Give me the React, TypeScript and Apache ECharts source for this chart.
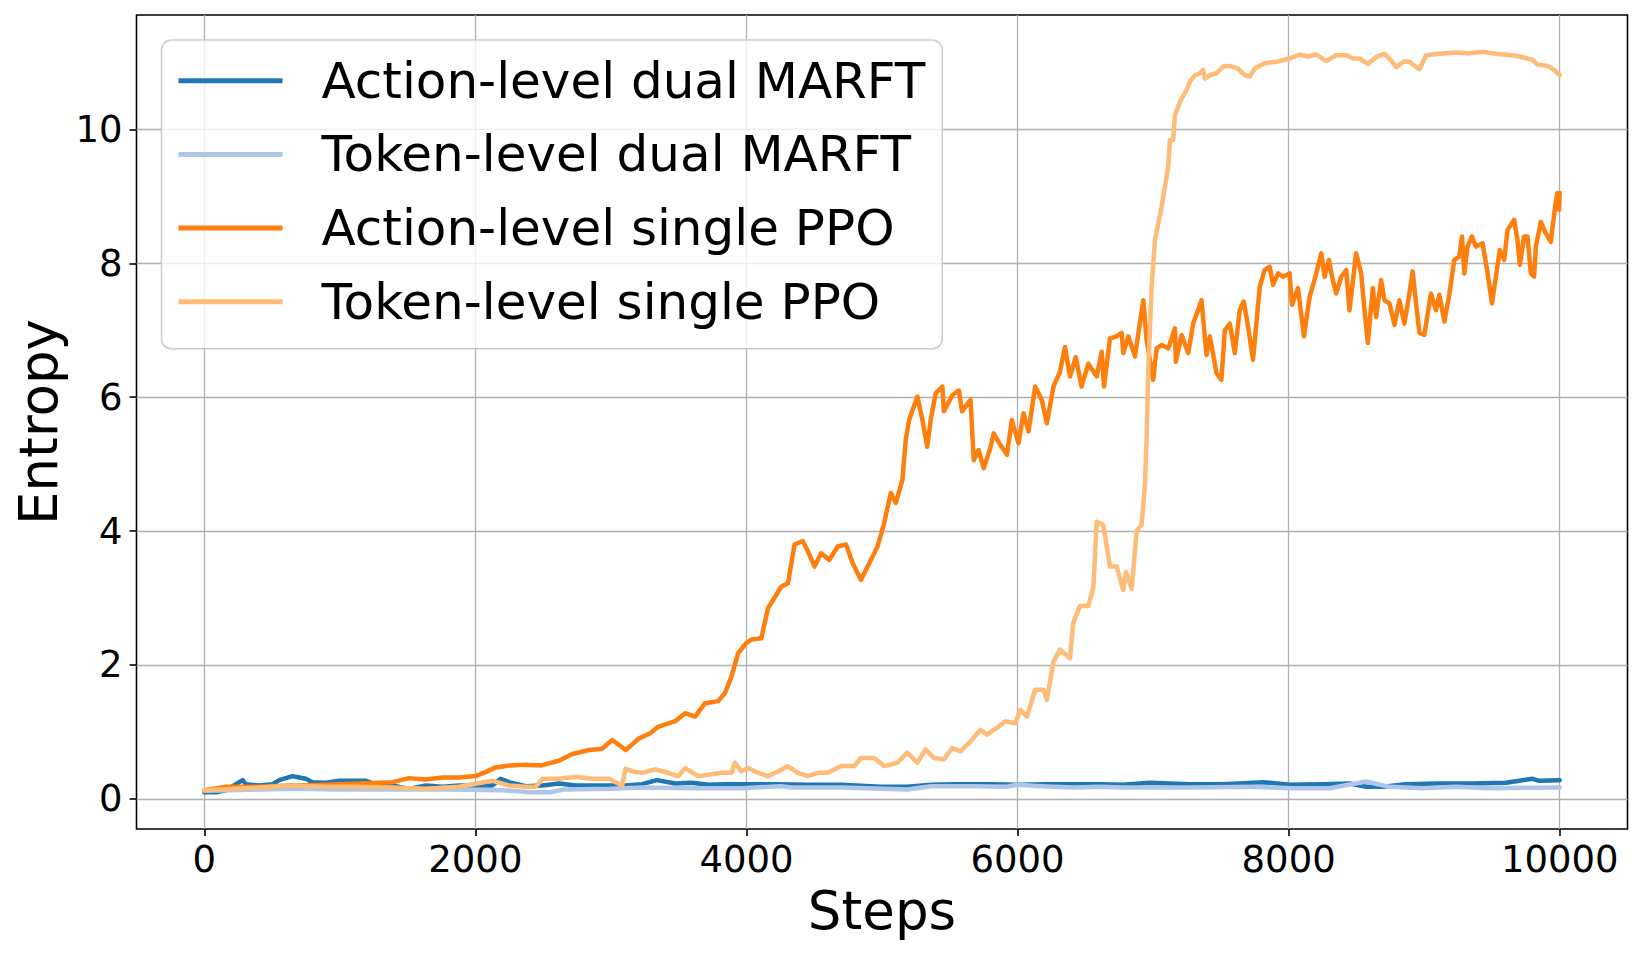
import React, { useEffect, useRef } from "react";
import * as echarts from "echarts";

const seriesNames = [
  "Action-level dual MARFT",
  "Token-level dual MARFT",
  "Action-level single PPO",
  "Token-level single PPO",
];
const seriesColors = ["#1f77b4", "#aec7e8", "#ff7f0e", "#ffbb78"];

const xTicks = [0, 2000, 4000, 6000, 8000, 10000];
const yTicks = [0, 2, 4, 6, 8, 10];

const actionDualSteps = [0, 86, 160, 283, 307, 405, 504, 553, 651, 700, 749, 798, 897, 995, 1093, 1192, 1290, 1388, 1511, 1634, 1757, 1880, 2000, 2125, 2187, 2248, 2371, 2494, 2617, 2740, 2863, 2985, 3108, 3229, 3339, 3474, 3596, 3719, 3841, 4000, 4208, 4453, 4698, 4992, 5187, 5359, 5555, 5799, 6000, 6216, 6411, 6607, 6780, 6977, 7271, 7517, 7811, 8007, 8253, 8449, 8572, 8695, 8866, 9112, 9357, 9603, 9701, 9799, 9848, 10000];
const actionDualVals = [0.10, 0.10, 0.13, 0.28, 0.22, 0.20, 0.22, 0.28, 0.34, 0.32, 0.30, 0.25, 0.24, 0.27, 0.27, 0.27, 0.20, 0.20, 0.15, 0.20, 0.18, 0.20, 0.20, 0.20, 0.30, 0.25, 0.19, 0.20, 0.23, 0.20, 0.20, 0.20, 0.20, 0.22, 0.28, 0.23, 0.24, 0.21, 0.22, 0.22, 0.22, 0.21, 0.21, 0.18, 0.18, 0.21, 0.22, 0.22, 0.21, 0.22, 0.22, 0.22, 0.21, 0.24, 0.22, 0.22, 0.25, 0.21, 0.22, 0.23, 0.18, 0.18, 0.22, 0.23, 0.23, 0.24, 0.27, 0.30, 0.27, 0.28];

const tokenDualSteps = [0, 200, 405, 700, 1000, 1400, 1800, 2200, 2400, 2550, 2650, 3000, 3229, 3596, 3963, 4257, 4330, 4698, 5187, 5359, 5677, 5922, 5995, 6167, 6411, 6607, 6780, 7271, 7762, 8007, 8302, 8572, 8744, 8989, 9234, 9480, 10000];
const tokenDualVals = [0.12, 0.13, 0.14, 0.15, 0.14, 0.14, 0.14, 0.13, 0.10, 0.10, 0.14, 0.15, 0.17, 0.16, 0.16, 0.19, 0.17, 0.17, 0.14, 0.19, 0.19, 0.18, 0.21, 0.19, 0.17, 0.18, 0.17, 0.17, 0.18, 0.16, 0.16, 0.26, 0.18, 0.16, 0.18, 0.16, 0.17];

const actionSingleSteps = [0, 160, 405, 650, 900, 1140, 1390, 1510, 1630, 1760, 1880, 2000, 2075, 2150, 2250, 2370, 2490, 2615, 2715, 2840, 2935, 3010, 3110, 3205, 3290, 3351, 3474, 3547, 3621, 3694, 3792, 3841, 3890, 3939, 4000, 4037, 4110, 4159, 4220, 4257, 4306, 4355, 4416, 4453, 4502, 4551, 4612, 4673, 4735, 4784, 4845, 4918, 4967, 5016, 5065, 5102, 5151, 5175, 5200, 5261, 5298, 5334, 5359, 5396, 5445, 5457, 5518, 5567, 5591, 5653, 5677, 5714, 5750, 5799, 5824, 5873, 5922, 5958, 6007, 6044, 6081, 6130, 6179, 6216, 6265, 6313, 6350, 6387, 6430, 6472, 6522, 6584, 6621, 6638, 6682, 6731, 6768, 6780, 6817, 6866, 6928, 6952, 7001, 7026, 7063, 7112, 7161, 7168, 7210, 7259, 7296, 7357, 7394, 7419, 7468, 7504, 7529, 7566, 7603, 7639, 7669, 7701, 7737, 7787, 7823, 7860, 7885, 7922, 7958, 8007, 8025, 8069, 8113, 8155, 8204, 8241, 8265, 8297, 8326, 8351, 8388, 8425, 8449, 8498, 8535, 8560, 8584, 8621, 8646, 8682, 8707, 8744, 8781, 8817, 8854, 8891, 8915, 8940, 8965, 9001, 9050, 9087, 9112, 9149, 9185, 9222, 9259, 9279, 9296, 9320, 9352, 9382, 9431, 9468, 9500, 9529, 9558, 9590, 9615, 9664, 9688, 9706, 9737, 9762, 9787, 9811, 9824, 9860, 9897, 9934, 9966, 9983, 9995, 10000];
const actionSingleVals = [0.13, 0.18, 0.18, 0.20, 0.21, 0.23, 0.25, 0.31, 0.29, 0.32, 0.32, 0.34, 0.40, 0.47, 0.50, 0.51, 0.50, 0.57, 0.67, 0.73, 0.75, 0.88, 0.73, 0.90, 0.98, 1.08, 1.16, 1.28, 1.23, 1.43, 1.46, 1.58, 1.83, 2.18, 2.33, 2.38, 2.40, 2.85, 3.05, 3.17, 3.22, 3.80, 3.85, 3.70, 3.47, 3.67, 3.57, 3.77, 3.80, 3.52, 3.27, 3.57, 3.77, 4.12, 4.57, 4.42, 4.77, 5.36, 5.66, 6.01, 5.66, 5.26, 5.66, 6.06, 6.16, 5.79, 6.03, 6.10, 5.79, 5.96, 5.06, 5.21, 4.94, 5.24, 5.46, 5.29, 5.14, 5.66, 5.31, 5.76, 5.49, 6.16, 5.96, 5.61, 6.16, 6.38, 6.75, 6.31, 6.60, 6.16, 6.50, 6.31, 6.68, 6.16, 6.88, 6.91, 6.96, 6.66, 6.91, 6.61, 7.45, 6.86, 6.26, 6.73, 6.78, 6.73, 7.03, 6.53, 6.93, 6.66, 7.10, 7.45, 6.63, 6.91, 6.36, 6.26, 7.00, 7.10, 6.66, 7.30, 7.43, 7.05, 6.56, 7.65, 7.90, 7.95, 7.68, 7.85, 7.80, 7.85, 7.38, 7.63, 6.91, 7.50, 7.85, 8.15, 7.80, 8.05, 7.75, 7.55, 7.80, 7.90, 7.30, 8.15, 7.85, 7.30, 6.81, 7.63, 7.20, 7.75, 7.45, 7.40, 7.08, 7.45, 7.10, 7.55, 7.88, 7.40, 6.96, 6.93, 7.55, 7.30, 7.53, 7.13, 7.53, 8.05, 8.10, 8.40, 7.85, 8.25, 8.40, 8.25, 8.30, 7.85, 7.40, 7.80, 8.20, 8.05, 8.50, 8.65, 8.35, 7.98, 8.40, 8.40, 7.85, 7.80, 8.25, 8.62, 8.45, 8.32, 8.85, 9.05, 8.80, 9.05];

const tokenSingleSteps = [0, 405, 650, 900, 1140, 1390, 1630, 1880, 2125, 2250, 2370, 2445, 2495, 2615, 2740, 2860, 2985, 3083, 3108, 3180, 3229, 3327, 3425, 3498, 3547, 3645, 3719, 3816, 3890, 3914, 3963, 4012, 4086, 4159, 4233, 4306, 4380, 4453, 4526, 4600, 4698, 4796, 4845, 4943, 5016, 5114, 5187, 5261, 5322, 5383, 5457, 5518, 5579, 5653, 5726, 5775, 5861, 5910, 5983, 6020, 6069, 6130, 6191, 6216, 6265, 6313, 6387, 6411, 6460, 6522, 6560, 6584, 6633, 6682, 6731, 6780, 6800, 6842, 6879, 6915, 6940, 6952, 6964, 6989, 7014, 7063, 7112, 7124, 7148, 7161, 7198, 7247, 7271, 7308, 7345, 7369, 7382, 7418, 7468, 7517, 7566, 7627, 7676, 7713, 7750, 7823, 7909, 8007, 8081, 8142, 8204, 8277, 8351, 8425, 8474, 8523, 8584, 8646, 8707, 8756, 8793, 8854, 8891, 8928, 8965, 9014, 9112, 9234, 9333, 9431, 9529, 9652, 9725, 9799, 9836, 9909, 9958, 10000];
const tokenSingleVals = [0.13, 0.17, 0.20, 0.18, 0.18, 0.17, 0.15, 0.18, 0.27, 0.20, 0.18, 0.18, 0.30, 0.30, 0.33, 0.30, 0.30, 0.20, 0.45, 0.40, 0.39, 0.44, 0.39, 0.34, 0.46, 0.34, 0.36, 0.39, 0.39, 0.54, 0.41, 0.46, 0.39, 0.34, 0.41, 0.49, 0.39, 0.34, 0.39, 0.39, 0.49, 0.49, 0.61, 0.61, 0.49, 0.54, 0.69, 0.54, 0.74, 0.61, 0.59, 0.76, 0.71, 0.86, 1.03, 0.96, 1.08, 1.16, 1.13, 1.33, 1.23, 1.63, 1.63, 1.48, 2.05, 2.23, 2.10, 2.63, 2.88, 2.88, 3.17, 4.14, 4.09, 3.47, 3.47, 3.12, 3.39, 3.14, 4.01, 4.09, 4.69, 5.36, 6.36, 7.65, 8.35, 8.85, 9.44, 9.84, 9.84, 10.21, 10.41, 10.59, 10.71, 10.81, 10.84, 10.89, 10.76, 10.81, 10.84, 10.94, 10.95, 10.91, 10.81, 10.79, 10.91, 10.99, 11.01, 11.06, 11.12, 11.09, 11.12, 11.02, 11.11, 11.11, 11.06, 11.06, 10.98, 11.08, 11.13, 11.03, 10.93, 11.02, 11.01, 10.95, 10.90, 11.11, 11.13, 11.15, 11.14, 11.16, 11.13, 11.11, 11.08, 11.04, 10.97, 10.95, 10.89, 10.81];

const allSteps = [actionDualSteps, tokenDualSteps, actionSingleSteps, tokenSingleSteps];
const allVals = [actionDualVals, tokenDualVals, actionSingleVals, tokenSingleVals];

const FONT = "DejaVu Sans";

export default function App() {
  const ref = useRef<HTMLDivElement>(null);
  useEffect(() => {
    if (!ref.current) return;
    const chart = echarts.init(ref.current, null, { renderer: "svg" });
    const series = seriesNames.map((name, i) => ({
      name,
      type: "line",
      data: allSteps[i].map((s, j) => [s, allVals[i][j]]),
      showSymbol: false,
      symbol: "none",
      color: seriesColors[i],
      lineStyle: { width: 4.5, color: seriesColors[i], join: "round", cap: "round" },
      z: 2 + i,
    }));
    const plain = (v: number) => String(v);
    chart.setOption({
      animation: false,
      backgroundColor: "#ffffff",
      textStyle: { fontFamily: FONT },
      grid: {
        left: 136.5,
        right: 16.5,
        top: 15,
        bottom: 126,
        show: true,
        borderColor: "#000000",
        borderWidth: 1.6,
        backgroundColor: "transparent",
      },
      legend: {
        data: seriesNames,
        orient: "vertical",
        left: 161.5,
        top: 40,
        padding: [12.7, 17, 19, 17],
        itemWidth: 104,
        itemHeight: 5,
        itemGap: 17.7,
        icon: "rect",
        backgroundColor: "rgba(255,255,255,0.8)",
        borderColor: "#cccccc",
        borderWidth: 1.5,
        borderRadius: 10,
        textStyle: {
          fontFamily: FONT,
          fontSize: 50,
          lineHeight: 56,
          color: "#000000",
          padding: [0, 0, 0, 34],
        },
      },
      xAxis: {
        type: "value",
        min: -500,
        max: 10500,
        name: "Steps",
        nameLocation: "middle",
        nameGap: 55,
        nameTextStyle: { fontFamily: FONT, fontSize: 53, color: "#000000" },
        axisLine: { show: false, onZero: false },
        axisTick: {
          show: true,
          length: 7,
          inside: false,
          customValues: xTicks,
          lineStyle: { color: "#000000", width: 1.6 },
        },
        axisLabel: {
          customValues: xTicks,
          formatter: plain,
          fontFamily: FONT,
          fontSize: 37,
          color: "#000000",
          margin: 12,
        },
        splitLine: { show: true, lineStyle: { color: "#b0b0b0", width: 1.3 } },
      },
      yAxis: {
        type: "value",
        min: -0.45,
        max: 11.71,
        name: "Entropy",
        nameLocation: "middle",
        nameGap: 60,
        nameTextStyle: { fontFamily: FONT, fontSize: 53, color: "#000000" },
        axisLine: { show: false, onZero: false },
        axisTick: {
          show: true,
          length: 7,
          inside: false,
          customValues: yTicks,
          lineStyle: { color: "#000000", width: 1.6 },
        },
        axisLabel: {
          customValues: yTicks,
          formatter: plain,
          fontFamily: FONT,
          fontSize: 37,
          color: "#000000",
          margin: 14,
        },
        splitLine: { show: true, lineStyle: { color: "#b0b0b0", width: 1.3 } },
      },
      series,
    });
    return () => chart.dispose();
  }, []);
  return (
    <div
      ref={ref}
      style={{ position: "fixed", left: 0, top: 0, width: 1644, height: 955, background: "#fff" }}
    />
  );
}
